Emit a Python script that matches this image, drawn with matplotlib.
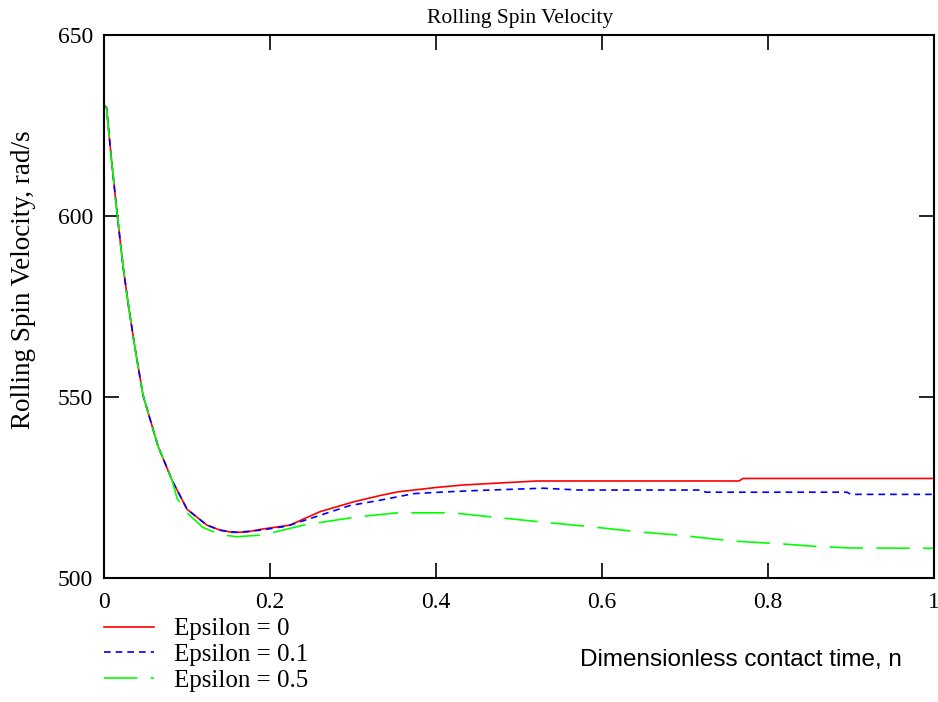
import numpy as np
import matplotlib
matplotlib.use('Agg')
import matplotlib.pyplot as plt

# values (n, rad/s)
t_decay = [0.0, 0.003, 0.009, 0.016, 0.023, 0.029, 0.037, 0.047, 0.065, 0.082]
v_decay = [630.5, 630.0, 615.5, 600.3, 586.0, 576.0, 564.0, 550.5, 536.5, 527.0]

t_eps0 = [0.1, 0.124, 0.14, 0.155, 0.172, 0.19, 0.224, 0.26, 0.3, 0.333, 0.354,
          0.4, 0.433, 0.473, 0.522, 0.765, 0.77, 1.0]
v_eps0 = [519.0, 514.6, 513.2, 512.6, 512.7, 513.5, 514.6, 518.3, 521.0, 522.8, 523.8,
          525.0, 525.7, 526.2, 526.8, 526.8, 527.5, 527.5]

t_eps01 = [0.1, 0.124, 0.14, 0.16, 0.188, 0.22, 0.26, 0.296, 0.333, 0.373, 0.413,
           0.453, 0.529, 0.573, 0.72, 0.725, 0.895, 0.9, 1.0]
v_eps01 = [519.0, 514.6, 513.2, 512.6, 513.2, 514.3, 517.3, 520.0, 521.5, 523.3, 523.8,
           524.2, 524.8, 524.3, 524.3, 523.7, 523.7, 523.1, 523.1]

t_eps05 = [0.088, 0.1, 0.119, 0.14, 0.16, 0.192, 0.24, 0.305, 0.354, 0.42, 0.453,
           0.513, 0.589, 0.646, 0.69, 0.758, 0.818, 0.859, 0.9, 1.0]
v_eps05 = [522.0, 518.0, 514.0, 512.0, 511.4, 511.9, 514.6, 516.9, 518.0, 518.0, 517.2,
           515.8, 514.1, 512.7, 511.9, 510.2, 509.4, 508.7, 508.3, 508.2]

labels = ["Epsilon = 0", "Epsilon = 0.1", "Epsilon = 0.5"]
x_ticks = [0, 0.2, 0.4, 0.6, 0.8, 1]
x_ticklabels = ["0", "0.2", "0.4", "0.6", "0.8", "1"]
y_ticks = [500, 550, 600, 650]

plt.rcParams['font.family'] = ['Liberation Serif', 'DejaVu Serif']

fig = plt.figure(figsize=(9.38, 7.02), dpi=100)
ax = fig.add_axes([104 / 938, 1 - 578 / 702, 830 / 938, 543 / 702])

ax.plot(t_decay + t_eps0, v_decay + v_eps0, color='#ff0000', lw=1.2, label=labels[0])
ax.plot(t_decay + t_eps01, v_decay + v_eps01, color='#0000ff', lw=1.2,
        dashes=(4, 3), label=labels[1])
ax.plot(t_decay + t_eps05, v_decay + v_eps05, color='#00ff00', lw=1.2,
        dashes=(20, 8), label=labels[2])

ax.set_xlim(0, 1)
ax.set_ylim(500, 650)
ax.set_xticks(x_ticks)
ax.set_xticklabels(x_ticklabels)
ax.set_yticks(y_ticks)
ax.tick_params(direction='in', length=11, width=1.2, top=True, right=True,
               labelsize=17)
ax.tick_params(axis='x', pad=10)
ax.tick_params(axis='y', pad=8)
for sp in ax.spines.values():
    sp.set_linewidth(1.5)

# title and axis labels placed in figure coords, like the reference
fig.text(520 / 938, 1 - 18 / 702, "Rolling Spin Velocity", fontsize=15.5,
         ha='center', va='center')
fig.text(24 / 938, 1 - 280 / 702, "Rolling Spin Velocity, rad/s", fontsize=19.5,
         rotation=90, ha='center', va='center')
fig.text(741 / 938, 1 - 660 / 702, "Dimensionless contact time, n",
         family='Liberation Sans', fontsize=17.5, ha='center', va='center')

ax.legend(loc='upper left', bbox_to_anchor=(94 / 938, 1 - 608 / 702),
          bbox_transform=fig.transFigure, frameon=False, fontsize=18,
          handlelength=2.0, handletextpad=0.8, labelspacing=0.12,
          borderaxespad=0)

fig.savefig("out.png", dpi=100)
